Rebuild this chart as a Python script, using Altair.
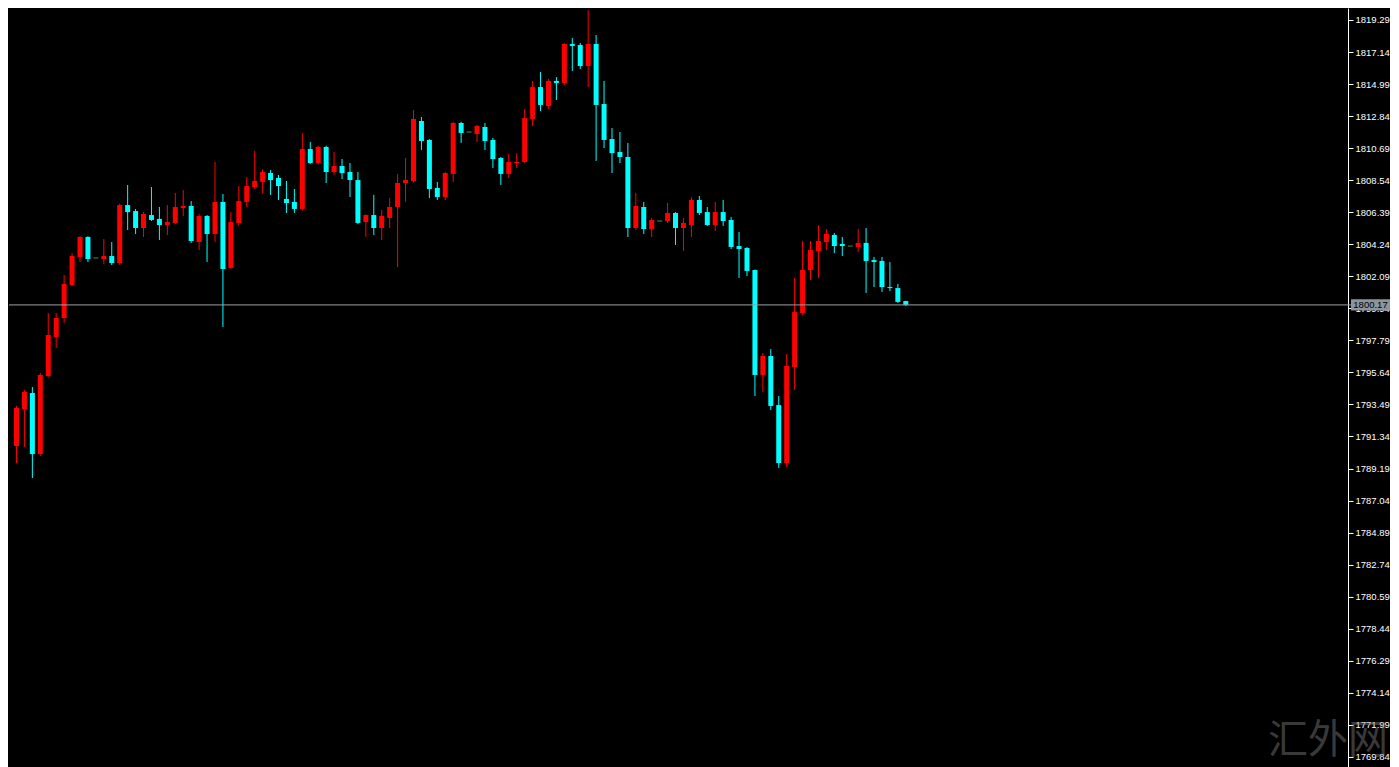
import altair as alt
import pandas as pd

# OHLC values (one candle per bar, oldest first)
opens = [1790.70, 1793.18, 1794.26, 1790.16, 1795.40, 1798.02, 1799.29, 1801.51, 1803.39, 1804.73,
         1803.32, 1803.25, 1803.45, 1802.98, 1806.87, 1806.47, 1805.33, 1806.20, 1805.94, 1805.53,
         1805.67, 1806.67, 1806.81, 1804.39, 1806.14, 1804.93, 1807.08, 1802.65, 1805.67, 1807.08,
         1808.08, 1808.42, 1809.02, 1808.69, 1807.28, 1807.08, 1806.61, 1810.63, 1809.69, 1810.77,
         1809.09, 1809.49, 1809.09, 1808.55, 1805.73, 1806.20, 1805.33, 1806.00, 1806.74, 1808.35,
         1808.49, 1812.51, 1811.24, 1808.02, 1807.41, 1808.96, 1812.38, 1811.77, 1811.64, 1812.11,
         1811.24, 1810.03, 1808.96, 1809.69, 1809.76, 1812.65, 1814.79, 1813.52, 1815.20, 1815.06,
         1817.68, 1817.61, 1816.20, 1817.68, 1813.65, 1811.30, 1810.43, 1810.10, 1805.33, 1806.74,
         1805.26, 1805.80, 1805.80, 1806.34, 1805.33, 1805.53, 1807.21, 1806.40, 1805.53, 1806.40,
         1805.87, 1804.12, 1803.99, 1802.51, 1795.47, 1796.74, 1793.45, 1789.56, 1796.00, 1799.63,
         1802.51, 1803.79, 1804.39, 1804.86, 1804.26, 1804.12, 1804.06, 1804.33, 1803.18, 1803.12,
         1801.37, 1801.30, 1800.43]
highs = [1793.39, 1794.46, 1794.66, 1795.60, 1799.63, 1799.63, 1802.18, 1803.65, 1804.78, 1804.78,
         1803.32, 1804.59, 1804.39, 1806.95, 1808.22, 1806.61, 1806.40, 1808.08, 1806.74, 1806.87,
         1807.68, 1807.88, 1807.14, 1806.27, 1806.20, 1809.76, 1807.61, 1806.40, 1808.15, 1808.75,
         1810.50, 1809.29, 1809.22, 1808.89, 1808.49, 1807.95, 1811.71, 1811.10, 1810.85, 1810.85,
         1810.43, 1809.96, 1809.69, 1809.09, 1806.25, 1807.55, 1806.54, 1807.34, 1808.96, 1810.03,
         1813.25, 1812.78, 1811.30, 1808.42, 1809.10, 1812.45, 1812.45, 1811.77, 1812.25, 1812.38,
         1811.37, 1810.10, 1810.30, 1810.36, 1813.32, 1815.20, 1815.80, 1815.33, 1815.46, 1817.75,
         1818.08, 1817.75, 1819.96, 1818.28, 1815.20, 1812.04, 1811.77, 1811.04, 1807.68, 1807.08,
         1806.00, 1805.80, 1807.01, 1806.40, 1806.00, 1807.41, 1807.48, 1806.74, 1807.08, 1807.21,
         1806.07, 1805.06, 1804.05, 1802.55, 1796.94, 1797.21, 1794.06, 1796.87, 1801.98, 1804.46,
         1804.46, 1805.53, 1805.26, 1805.00, 1804.73, 1804.12, 1805.26, 1805.33, 1803.39, 1803.39,
         1803.05, 1801.57, 1800.45]
lows = [1789.56, 1790.63, 1788.55, 1790.03, 1795.30, 1797.28, 1798.96, 1801.45, 1803.05, 1803.05,
        1803.32, 1802.92, 1802.85, 1802.85, 1805.20, 1804.93, 1804.73, 1805.80, 1804.53, 1804.86,
        1805.60, 1806.14, 1804.33, 1803.85, 1803.05, 1804.39, 1798.69, 1802.60, 1805.47, 1806.74,
        1807.95, 1807.68, 1807.55, 1807.21, 1806.34, 1806.34, 1806.50, 1809.63, 1809.60, 1808.35,
        1808.89, 1808.62, 1807.41, 1805.60, 1804.73, 1804.86, 1804.53, 1805.33, 1802.71, 1807.08,
        1808.40, 1810.57, 1807.34, 1807.21, 1807.21, 1808.42, 1811.04, 1811.77, 1811.10, 1810.57,
        1809.36, 1808.22, 1808.69, 1809.36, 1809.70, 1812.18, 1813.18, 1813.32, 1813.92, 1814.93,
        1815.87, 1816.00, 1814.79, 1809.83, 1810.70, 1809.02, 1809.69, 1804.73, 1805.20, 1804.93,
        1804.73, 1805.80, 1805.67, 1804.19, 1803.79, 1804.73, 1806.20, 1805.47, 1805.13, 1805.47,
        1803.92, 1801.98, 1802.11, 1794.06, 1794.33, 1793.12, 1789.23, 1789.29, 1794.46, 1799.50,
        1801.84, 1801.98, 1803.85, 1803.65, 1803.45, 1804.12, 1803.72, 1800.97, 1801.37, 1801.04,
        1801.10, 1800.30, 1800.10]
closes = [1793.25, 1794.33, 1790.16, 1795.47, 1798.15, 1799.29, 1801.57, 1803.45, 1804.73, 1803.25,
          1803.32, 1803.45, 1802.98, 1806.87, 1806.40, 1805.33, 1806.27, 1805.87, 1805.53, 1805.73,
          1806.74, 1806.81, 1804.46, 1806.14, 1804.93, 1807.08, 1802.58, 1805.73, 1807.14, 1808.15,
          1808.49, 1809.09, 1808.55, 1808.15, 1807.01, 1806.61, 1810.63, 1809.69, 1810.77, 1809.09,
          1809.49, 1809.02, 1808.55, 1805.67, 1806.20, 1805.33, 1806.14, 1806.74, 1808.35, 1808.55,
          1812.65, 1811.17, 1807.95, 1807.41, 1809.02, 1812.38, 1811.71, 1811.77, 1812.18, 1811.17,
          1809.96, 1808.96, 1809.76, 1809.76, 1812.71, 1814.79, 1813.59, 1815.20, 1815.06, 1817.68,
          1817.55, 1816.20, 1817.68, 1813.59, 1811.24, 1810.36, 1810.10, 1805.33, 1806.81, 1805.26,
          1805.87, 1805.80, 1806.34, 1805.33, 1805.67, 1807.21, 1806.34, 1805.53, 1806.40, 1805.80,
          1804.06, 1803.92, 1802.45, 1795.47, 1796.74, 1793.39, 1789.56, 1796.07, 1799.69, 1802.51,
          1803.85, 1804.46, 1804.93, 1804.12, 1804.12, 1804.12, 1804.33, 1803.12, 1803.05, 1801.37,
          1801.30, 1800.37, 1800.17]

axis_ticks = [1769.84, 1771.99, 1774.14, 1776.29, 1778.44, 1780.59, 1782.74, 1784.89,
              1787.04, 1789.19, 1791.34, 1793.49, 1795.64, 1797.79, 1799.94, 1802.09,
              1804.24, 1806.39, 1808.54, 1810.69, 1812.84, 1814.99, 1817.14, 1819.29]
y_domain = [1769.16, 1820.095]
watermark = "汇外网"

rows = []
for i, (o, h, l, c) in enumerate(zip(opens, highs, lows, closes)):
    kind = "up" if c > o else ("down" if c < o else "doji")
    rows.append({"i": i, "open": o, "high": h, "low": l, "close": c, "kind": kind})
df = pd.DataFrame(rows)

W, H = 1339, 759
x_scale = alt.Scale(domain=[-0.3125, -0.3125 + W / 8], nice=False, zero=False)
y_scale = alt.Scale(domain=y_domain, nice=False, zero=False)
y_axis = alt.Axis(orient="right", values=axis_ticks, format=".2f", title=None,
                  grid=False, labelOverlap=False, labelFlush=False)
color = alt.Color("kind:N", legend=None,
                  scale=alt.Scale(domain=["up", "down", "doji"],
                                  range=["#ff0000", "#00ffff", "#66cc66"]))

base = alt.Chart(df)

wicks = base.mark_rule(strokeWidth=1).encode(
    x=alt.X("i:Q", scale=x_scale, axis=None),
    y=alt.Y("low:Q", scale=y_scale, axis=y_axis),
    y2="high:Q",
    color=color,
)

bodies = base.transform_filter(alt.datum.kind != "doji").mark_bar(size=5).encode(
    x=alt.X("i:Q", scale=x_scale, axis=None),
    y=alt.Y("open:Q", scale=y_scale, axis=y_axis),
    y2="close:Q",
    color=color,
)

dojis = base.transform_filter(alt.datum.kind == "doji").mark_tick(
    orient="horizontal", size=5, thickness=1).encode(
    x=alt.X("i:Q", scale=x_scale, axis=None),
    y=alt.Y("close:Q", scale=y_scale, axis=y_axis),
    color=color,
)

last = closes[-1]
price_line = alt.Chart(pd.DataFrame({"p": [last]})).mark_rule(
    color="#9aa0a6", strokeWidth=1).encode(
    y=alt.Y("p:Q", scale=y_scale, axis=y_axis),
    x=alt.value(0), x2=alt.value(W + 3),
)

box_path = "M-1,-0.29 L1,-0.29 L1,0.29 L-1,0.29 Z"
price_box = alt.Chart(pd.DataFrame({"p": [last]})).mark_point(
    shape=box_path, filled=True, size=1521, color="#8c949c", opacity=1, strokeWidth=0).encode(
    y=alt.Y("p:Q", scale=y_scale, axis=y_axis),
    x=alt.value(W + 22.5),
)
price_text = alt.Chart(pd.DataFrame({"p": [last], "t": [f"{last:.2f}"]})).mark_text(
    font="Liberation Sans", fontSize=9.5, color="#000000", align="center", baseline="middle").encode(
    y=alt.Y("p:Q", scale=y_scale, axis=y_axis),
    x=alt.value(W + 22.5),
    text="t:N",
)

wm = alt.Chart(pd.DataFrame({"t": [watermark]})).mark_text(
    font="Noto Sans CJK SC", fontSize=40, color="#888888", opacity=0.42,
    align="center", baseline="alphabetic").encode(
    x=alt.value(W - 20), y=alt.value(H - 14), text="t:N")

chart = alt.layer(wm, wicks, bodies, dojis, price_line, price_box, price_text).properties(
    width=W, height=H, background="#000000", padding=0,
).configure_view(stroke=None).configure_axis(
    domainColor="#ffffff", tickColor="#ffffff", tickSize=5,
    labelColor="#ffffff", labelFont="Liberation Sans", labelFontSize=9.5,
    labelPadding=2, labelOverlap=False, labelFlush=False,
)

chart.save("out.html", embed_options={"renderer": "svg", "actions": False})
